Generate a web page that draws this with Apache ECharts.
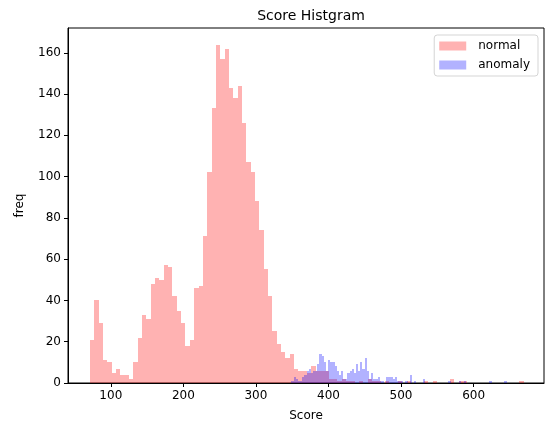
<!DOCTYPE html>
<html><head><meta charset="utf-8">
<script src="https://cdn.jsdelivr.net/npm/echarts@6/dist/echarts.min.js"></script>
<style>html,body{margin:0;padding:0;background:#fff}#c{width:546px;height:428px}</style>
</head><body><div id="c"></div>
<script>
// Histogram counts (100 bins each)
const normalCounts = [
  21,40,29,11,10,5,7,4,4,2,
  10,22,33,31,48,51,50,57,56,42,
  35,29,18,21,46,47,71,102,133,164,
  157,162,143,138,144,126,107,102,88,74,
  55,42,25,19,15,12,14,7,6,6,
  5,8,6,6,6,2,2,1,2,1,
  1,0,1,0,2,1,1,0,1,0,
  0,1,0,1,0,0,0,1,0,1,
  0,0,0,2,0,1,1,0,0,0,
  0,0,0,0,0,0,0,0,0,1
];
const anomalyCounts = [
  1,3,2,1,1,3,4,6,7,5,
  6,6,9,14,13,10,6,11,10,10,
  8,6,4,6,2,2,5,6,7,5,
  9,6,10,7,12,6,2,5,2,2,
  3,1,1,0,3,3,3,2,3,1,
  1,1,0,1,0,4,0,1,0,0,
  0,2,0,0,0,0,0,0,0,0,
  0,0,0,1,0,0,0,0,1,0,
  1,0,0,0,0,0,0,0,0,0,
  0,0,1,0,0,0,0,0,0,1
];
const normalRange = [71.5, 668.9];
const anomalyRange = [349.0, 645.4];
const xTicks = [100, 200, 300, 400, 500, 600];
const yTicks = [0, 20, 40, 60, 80, 100, 120, 140, 160];
const xLimits = [41, 697];
const yLimits = [0, 172];

function binData(counts, range) {
  const w = (range[1] - range[0]) / counts.length;
  return counts.map((c, i) => [range[0] + i * w, range[0] + (i + 1) * w, c]);
}

function renderBar(params, api) {
  if (!api.value(2)) return null;
  const p0 = api.coord([api.value(0), api.value(2)]);
  const p1 = api.coord([api.value(1), 0]);
  const x0 = Math.round(p0[0]), x1 = Math.round(p1[0]);
  const y0 = Math.round(p0[1]), y1 = Math.round(p1[1]);
  return {
    type: 'rect',
    shape: { x: x0, y: y0, width: x1 - x0, height: y1 - y0 },
    style: { fill: api.visual('color') }
  };
}

const FONT = 'DejaVu Sans';
const chart = echarts.init(document.getElementById('c'), null, { renderer: 'canvas' });
chart.setOption({
  animation: false,
  backgroundColor: '#fff',
  textStyle: { fontFamily: FONT },
  title: {
    text: 'Score Histgram', left: 306, top: 4, textAlign: 'center',
    textStyle: { fontFamily: FONT, fontSize: 14, fontWeight: 'normal', color: '#000' }
  },
  legend: {
    orient: 'vertical', right: 8, top: 35,
    itemWidth: 27, itemHeight: 9, itemGap: 7,
    padding: [5, 8, 5, 5],
    backgroundColor: 'rgba(255,255,255,0.8)',
    borderColor: '#d5d5d5', borderWidth: 1, borderRadius: 3,
    icon: 'rect',
    textStyle: { fontFamily: FONT, fontSize: 12, color: '#000', padding: [0, 0, 0, 7] },
    data: ['normal', 'anomaly']
  },
  grid: {
    left: 68, top: 28, width: 476, height: 355,
    show: true, borderColor: '#000', borderWidth: 1, containLabel: false
  },
  xAxis: {
    type: 'value', min: xLimits[0], max: xLimits[1],
    name: 'Score', nameLocation: 'middle', nameGap: 27,
    nameTextStyle: { fontFamily: FONT, fontSize: 12, color: '#000' },
    axisLine: { show: true, onZero: false, lineStyle: { color: '#000', width: 1 } },
    axisTick: { show: true, length: 4, lineStyle: { color: '#000' }, customValues: xTicks },
    axisLabel: { color: '#000', fontSize: 12, fontFamily: FONT, margin: 7, customValues: xTicks },
    splitLine: { show: false }
  },
  yAxis: {
    type: 'value', min: yLimits[0], max: yLimits[1],
    name: 'freq', nameLocation: 'middle', nameGap: 42, nameRotate: 90,
    nameTextStyle: { fontFamily: FONT, fontSize: 12, color: '#000' },
    axisLine: { show: true, lineStyle: { color: '#000', width: 1 } },
    axisTick: { show: true, length: 4, lineStyle: { color: '#000' }, customValues: yTicks },
    axisLabel: { color: '#000', fontSize: 12, fontFamily: FONT, margin: 7, customValues: yTicks },
    splitLine: { show: false }
  },
  series: [
    {
      name: 'normal', type: 'custom', renderItem: renderBar, clip: true,
      itemStyle: { color: 'rgba(255,0,0,0.3)' },
      encode: { x: [0, 1], y: 2 },
      data: binData(normalCounts, normalRange)
    },
    {
      name: 'anomaly', type: 'custom', renderItem: renderBar, clip: true,
      itemStyle: { color: 'rgba(0,0,255,0.3)' },
      encode: { x: [0, 1], y: 2 },
      data: binData(anomalyCounts, anomalyRange)
    }
  ]
});
</script>
</body></html>
